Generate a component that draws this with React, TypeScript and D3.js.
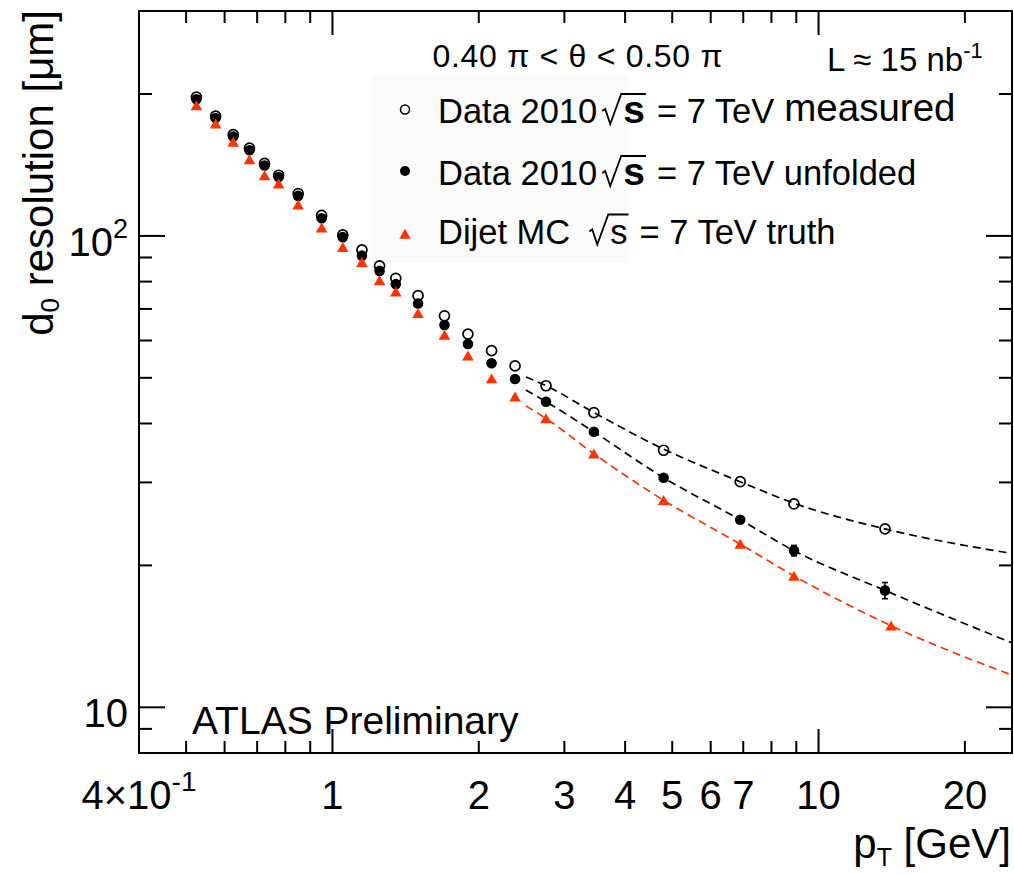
import React, { useEffect, useRef } from "react";
import * as d3 from "d3";

// ---- Data ----
const pT = [0.525, 0.575, 0.625, 0.675, 0.725, 0.775, 0.85, 0.95, 1.05, 1.15, 1.25, 1.35, 1.5, 1.7, 1.9, 2.125, 2.375, 2.75, 3.45, 4.8, 6.9, 8.9, 13.7];
const measured = [197, 179.5, 164, 153.5, 142.5, 134.5, 123, 110.5, 100.5, 93.4, 86.4, 81.3, 74.7, 67.7, 61.9, 57.1, 53.0, 48.1, 42.2, 35.1, 30.1, 27.0, 23.9];
const unfolded = [195, 177.8, 162.5, 152, 141, 133.3, 121.6, 109, 99.4, 90.8, 84.3, 79.0, 71.9, 64.7, 59.0, 53.7, 49.7, 44.5, 38.4, 30.7, 25.0, 21.5, 17.7];
const unfoldedErr = [0, 0, 0, 0, 0, 0, 0, 0, 0, 0, 0, 0, 0, 0, 0, 0, 0, 0, 0, 0, 0.3, 0.55, 0.7];
const mcPT = [0.525, 0.575, 0.625, 0.675, 0.725, 0.775, 0.85, 0.95, 1.05, 1.15, 1.25, 1.35, 1.5, 1.7, 1.9, 2.125, 2.375, 2.75, 3.45, 4.8, 6.9, 8.9, 14.1];
const mcTruth = [189, 172.9, 158.2, 145.3, 134.3, 129, 116.4, 104.1, 94.6, 87.9, 80.4, 76.1, 68.5, 61.6, 55.7, 49.8, 45.6, 41.0, 34.5, 27.5, 22.2, 19.0, 14.9];

// dashed fit curves
const fitPT = [2.5, 2.75, 3.45, 4.8, 6.9, 8.9, 13.7, 25];
const fitMeasured = [50.2, 48.1, 42.2, 35.3, 30.1, 27.1, 23.9, 21.2];
const fitUnfolded = [47.1, 44.5, 38.4, 30.7, 25.0, 21.5, 17.7, 13.7];
const fitMCPT = [2.5, 2.75, 3.45, 4.8, 6.9, 8.9, 14.1, 25];
const fitMC = [43.6, 41.0, 34.5, 27.5, 22.2, 19.0, 14.9, 11.7];

const xMajor = [1, 10];
const xMinor = [0.5, 0.6, 0.7, 0.8, 0.9, 2, 3, 4, 5, 6, 7, 8, 9, 20];
const xLabels = [
  { v: 2, t: "2" }, { v: 3, t: "3" }, { v: 4, t: "4" }, { v: 5, t: "5" },
  { v: 6, t: "6" }, { v: 7, t: "7" }, { v: 1, t: "1" }, { v: 10, t: "10" }, { v: 20, t: "20" },
];
const yMajor = [10, 100];
const yMinor = [9, 20, 30, 40, 50, 60, 70, 80, 90, 200];

const FONT = "'Liberation Sans', Arial, Helvetica, sans-serif";
const RED = "#ff3300";

export default function App() {
  const ref = useRef<SVGSVGElement | null>(null);

  useEffect(() => {
    const svg = d3.select(ref.current);
    svg.selectAll("*").remove();

    const L = 139, R = 1012, T = 11, B = 753;
    const x = d3.scaleLog().domain([0.4, 25]).range([L, R]);
    const y = d3.scaleLog().domain([8, 300]).range([B, T]);

    svg.append("rect").attr("width", 1014).attr("height", 874).attr("fill", "white");

    // faint legend box
    svg.append("rect").attr("x", 372).attr("y", 77).attr("width", 256).attr("height", 186).attr("fill", "#fafafa");

    // ticks
    const tk = svg.append("g").attr("stroke", "black").attr("stroke-width", 2);
    const xt = (vals: number[], len: number) => {
      vals.forEach((v) => {
        tk.append("line").attr("x1", x(v)).attr("x2", x(v)).attr("y1", B).attr("y2", B - len);
        tk.append("line").attr("x1", x(v)).attr("x2", x(v)).attr("y1", T).attr("y2", T + len);
      });
    };
    xt(xMinor, 12);
    xt(xMajor, 24);
    const yt = (vals: number[], len: number) => {
      vals.forEach((v) => {
        tk.append("line").attr("x1", L).attr("x2", L + len).attr("y1", y(v)).attr("y2", y(v));
        tk.append("line").attr("x1", R).attr("x2", R - len).attr("y1", y(v)).attr("y2", y(v));
      });
    };
    yt(yMinor, 13);
    yt(yMajor, 26);

    // frame
    svg.append("rect").attr("x", L).attr("y", T).attr("width", R - L).attr("height", B - T)
      .attr("fill", "none").attr("stroke", "black").attr("stroke-width", 2);

    // x tick labels
    const lab = svg.append("g").attr("font-family", FONT).attr("fill", "black");
    xLabels.forEach((d) => {
      lab.append("text").attr("x", x(d.v)).attr("y", 809).attr("text-anchor", "middle")
        .attr("font-size", 40).text(d.t);
    });
    const t04 = lab.append("text").attr("x", x(0.4)).attr("y", 809).attr("text-anchor", "middle").attr("font-size", 40);
    t04.append("tspan").text("4\u00d710");
    t04.append("tspan").attr("font-size", 28).attr("dy", -18).text("-1");

    // y tick labels
    lab.append("text").attr("x", 128).attr("y", y(10) + 20).attr("text-anchor", "end").attr("font-size", 40).text("10");
    const t100 = lab.append("text").attr("x", 128).attr("y", y(100) + 20.5).attr("text-anchor", "end").attr("font-size", 40);
    t100.append("tspan").text("10");
    t100.append("tspan").attr("font-size", 27).attr("dy", -18).text("2");

    // axis titles
    const yTitle = lab.append("text").attr("transform", "translate(53,10) rotate(-90)")
      .attr("text-anchor", "end").attr("font-size", 42);
    yTitle.append("tspan").text("d");
    yTitle.append("tspan").attr("font-size", 26).attr("dy", 6).text("0");
    yTitle.append("tspan").attr("dy", -6).text(" resolution [\u03bcm]");

    const xTitle = lab.append("text").attr("x", 1011).attr("y", 858).attr("text-anchor", "end").attr("font-size", 42);
    xTitle.append("tspan").text("p");
    xTitle.append("tspan").attr("font-size", 25).attr("dy", 8).text("T");
    xTitle.append("tspan").attr("dy", -8).text(" [GeV]");

    lab.append("text").attr("x", 192).attr("y", 734).attr("font-size", 39).text("ATLAS Preliminary");

    lab.append("text").attr("x", 432.5).attr("y", 66.7).attr("font-size", 32)
      .attr("textLength", 290).attr("lengthAdjust", "spacing")
      .text("0.40 \u03c0 < \u03b8 < 0.50 \u03c0");
    const lum = lab.append("text").attr("x", 827).attr("y", 71).attr("font-size", 33);
    lum.append("tspan").text("L \u2248 15 nb");
    lum.append("tspan").attr("font-size", 22).attr("dy", -13).text("-1");

    // fit curves
    const line = d3.line<[number, number]>().x((d) => x(d[0])).y((d) => y(d[1])).curve(d3.curveMonotoneX);
    const fits: [number[], number[], string][] = [
      [fitPT, fitMeasured, "black"],
      [fitPT, fitUnfolded, "black"],
      [fitMCPT, fitMC, RED],
    ];
    fits.forEach(([xs, ys, c]) => {
      svg.append("path").attr("d", line(xs.map((v, i) => [v, ys[i]] as [number, number])))
        .attr("fill", "none").attr("stroke", c).attr("stroke-width", 1.7).attr("stroke-dasharray", "8,5");
    });

    // error bars for unfolded
    const eb = svg.append("g").attr("stroke", "black").attr("stroke-width", 1.6);
    pT.forEach((p, i) => {
      const e = unfoldedErr[i];
      if (!e) return;
      const y1 = y(unfolded[i] + e), y2 = y(unfolded[i] - e), cx = x(p);
      eb.append("line").attr("x1", cx).attr("x2", cx).attr("y1", y1).attr("y2", y2);
      eb.append("line").attr("x1", cx - 3).attr("x2", cx + 3).attr("y1", y1).attr("y2", y1);
      eb.append("line").attr("x1", cx - 3).attr("x2", cx + 3).attr("y1", y2).attr("y2", y2);
    });

    const tri = (cx: number, cy: number, s: number) =>
      `M${cx - s * 0.55},${cy + s * 0.45}L${cx + s * 0.55},${cy + s * 0.45}L${cx},${cy - s * 0.5}Z`;

    // markers
    pT.forEach((p, i) => {
      svg.append("circle").attr("cx", x(p)).attr("cy", y(measured[i])).attr("r", 5)
        .attr("fill", "none").attr("stroke", "black").attr("stroke-width", 1.7);
    });
    pT.forEach((p, i) => {
      svg.append("circle").attr("cx", x(p)).attr("cy", y(unfolded[i])).attr("r", 5.3).attr("fill", "black");
    });
    mcPT.forEach((p, i) => {
      svg.append("path").attr("d", tri(x(p), y(mcTruth[i]), 10.5)).attr("fill", RED);
    });

    // legend
    const rows = [
      { marker: "open", b: 123, my: 109.5, prefix: "Data 2010", gap: 5, boldS: true, suffix: "= 7 TeV", extra: "measured" },
      { marker: "filled", b: 185, my: 171, prefix: "Data 2010", gap: 5, boldS: true, suffix: "= 7 TeV unfolded", extra: "" },
      { marker: "tri", b: 243.5, my: 234, prefix: "Dijet MC", gap: 19, boldS: false, suffix: "= 7 TeV truth", extra: "" },
    ];
    const lg = svg.append("g").attr("font-family", FONT).attr("fill", "black");
    rows.forEach((r) => {
      const mx = 405;
      if (r.marker === "open") {
        lg.append("circle").attr("cx", mx).attr("cy", r.my).attr("r", 4.5).attr("fill", "none").attr("stroke", "black").attr("stroke-width", 1.5);
      } else if (r.marker === "filled") {
        lg.append("circle").attr("cx", mx).attr("cy", r.my).attr("r", 5).attr("fill", "black");
      } else {
        lg.append("path").attr("d", tri(mx, r.my, 10.5)).attr("fill", RED);
      }
      const t1 = lg.append("text").attr("x", 438).attr("y", r.b).attr("font-size", 34.5).text(r.prefix);
      const w1 = (t1.node() as SVGTextElement).getComputedTextLength();
      const rx = 438 + w1 + r.gap;
      const sText = lg.append("text").attr("x", rx + 21).attr("y", r.b)
        .attr("font-size", r.boldS ? 39 : 34.5).attr("font-weight", r.boldS ? "bold" : "normal").text("s");
      const sw = (sText.node() as SVGTextElement).getComputedTextLength();
      const sEnd = rx + 21 + sw + 1;
      const top = r.b - 29;
      lg.append("path")
        .attr("d", `M${rx},${r.b - 12}L${rx + 3},${r.b - 14}L${rx + 8},${r.b + 1}L${rx + 19},${top}L${sEnd},${top}`)
        .attr("fill", "none").attr("stroke", "black").attr("stroke-width", 1.8);
      const t3 = lg.append("text").attr("x", sEnd + 11).attr("y", r.b).attr("font-size", 34.5).text(r.suffix);
      const w3 = (t3.node() as SVGTextElement).getComputedTextLength();
      if (r.extra) {
        lg.append("text").attr("x", sEnd + 11 + w3 + 10).attr("y", r.b - 2).attr("font-size", 38.5).text(r.extra);
      }
    });
  }, []);

  return (
    <svg
      ref={ref}
      width={1014}
      height={874}
      style={{ position: "absolute", left: 0, top: 0, display: "block" }}
    />
  );
}
